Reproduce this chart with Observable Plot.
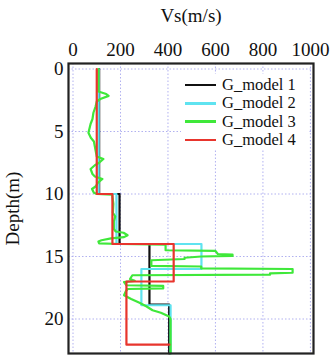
<!DOCTYPE html>
<html>
<head>
<meta charset="utf-8">
<script src="https://cdn.jsdelivr.net/npm/d3@7"></script>
<script src="https://cdn.jsdelivr.net/npm/@observablehq/plot@0.6"></script>
<style>
  body { margin: 0; background: #fff; }
  #wrap { position: relative; width: 331px; height: 356px; font-family: "Liberation Serif", serif; }
  #legend { position: absolute; left: 181px; top: 74px; width: 128px; height: 76px; background: #fff; }
  .row { position: absolute; left: 0; height: 18px; display: flex; align-items: center; font-size: 16.5px; color: #111; }
  .row span.sw { display: inline-block; width: 31px; height: 2.5px; margin-left: 4px; margin-right: 6px; }
</style>
</head>
<body>
<div id="wrap"></div>
<script>
// ---- data ----
const modelNames = ["G_model 1", "G_model 2", "G_model 3", "G_model 4"];
const modelColors = ["#111111", "#5fe3f0", "#3fe83a", "#e8352d"];

const m1Depth = [0, 10, 10, 14, 14, 18.85, 18.85, 22.76];
const m1Vs    = [110, 110, 196, 196, 322, 322, 405, 405];

const m2Depth = [0, 10, 10, 14, 14, 16.0, 16.0, 18.9, 18.9, 22.76];
const m2Vs    = [108, 108, 183, 183, 541, 541, 288, 288, 411, 411];

const m3Depth = [0, 1.8, 2.0, 2.15, 2.4, 2.6, 3.0, 3.5, 4.0, 4.4, 5.1, 5.5, 5.8, 6.5, 7.0, 7.2, 7.5, 7.7, 8.0, 8.4, 8.6, 8.8, 9.1, 9.4, 9.6, 9.9, 10.0,
  10.05, 10.8, 11.5, 11.8, 12.2, 12.8, 13.0, 13.1, 13.3, 13.45, 13.55, 13.7, 13.8, 13.95, 14.0,
  14.05, 14.5, 14.55, 14.8, 14.85, 14.95, 15.0, 15.1, 15.2, 15.3, 15.75, 15.8, 15.95, 16.0, 16.3, 16.35, 16.45, 16.5,
  16.8, 16.95, 17.05, 17.3, 17.35, 17.55, 17.6, 17.8, 18.1, 18.4, 18.7, 19.0, 19.3, 19.5, 19.8, 20.0, 22.76];
const m3Vs    = [107, 107, 140, 150, 115, 100, 95, 86, 82, 74, 65, 75, 88, 95, 100, 128, 110, 92, 74, 82, 92, 124, 105, 95, 80, 88, 100,
  165, 170, 168, 178, 172, 172, 180, 213, 230, 215, 160, 120, 107, 110, 200,
  390, 390, 600, 610, 672, 672, 540, 470, 470, 330, 330, 540, 540, 925, 925, 830, 830, 250,
  240, 260, 215, 225, 380, 380, 230, 222, 215, 245, 280, 310, 335, 370, 405, 411, 411];

const m4Depth = [0, 10, 10, 14, 14, 17.0, 17.0, 22.05, 22.05];
const m4Vs    = [100, 100, 166, 166, 424, 424, 225, 225, 406];

const xTicks = [0, 200, 400, 600, 800, 1000];
const yTicks = [0, 5, 10, 15, 20];

// ---- build table ----
const series = [[m1Depth, m1Vs], [m2Depth, m2Vs], [m3Depth, m3Vs], [m4Depth, m4Vs]];
const rows = [];
series.forEach(([ds, vs], i) => ds.forEach((d, k) => rows.push({model: modelNames[i], depth: d, vs: vs[k]})));

const chart = Plot.plot({
  width: 331,
  height: 356,
  marginLeft: 68,
  marginRight: 18,
  marginTop: 63,
  marginBottom: 3,
  style: {fontFamily: "Liberation Serif, serif", fontSize: "19px", color: "#111", background: "#fff"},
  x: {domain: [-19, 1013]},
  y: {domain: [-0.44, 22.76], reverse: true},
  color: {domain: modelNames, range: modelColors},
  marks: [
    Plot.gridX(xTicks, {stroke: "#a9a9ee", strokeOpacity: 0.9, strokeDasharray: "1.5,2"}),
    Plot.gridY(yTicks, {stroke: "#a9a9ee", strokeOpacity: 0.9, strokeDasharray: "1.5,2"}),
    Plot.line(rows, {x: "vs", y: "depth", z: "model", stroke: "model", strokeWidth: 2.2, curve: "linear"}),
    Plot.axisX(xTicks, {anchor: "top", tickSize: 0, tickPadding: 8, fontSize: 19, tickFormat: d => String(d), label: "Vs(m/s)", labelAnchor: "center", labelOffset: 55, labelArrow: "none"}),
    Plot.axisY(yTicks, {anchor: "left", tickSize: 0, tickPadding: 5, fontSize: 19, tickFormat: d => String(d), label: "Depth(m)", labelAnchor: "center", labelOffset: 63, labelArrow: "none"}),
    Plot.frame({stroke: "#222", strokeWidth: 2.2})
  ]
});

const wrap = document.getElementById("wrap");
wrap.appendChild(chart);

// legend inside the plot area
const legend = document.createElement("div");
legend.id = "legend";
modelNames.forEach((name, i) => {
  const r = document.createElement("div");
  r.className = "row";
  r.style.top = (2 + i * 18.3) + "px";
  const sw = document.createElement("span");
  sw.className = "sw";
  sw.style.background = modelColors[i];
  r.appendChild(sw);
  const t = document.createElement("span");
  t.textContent = name;
  r.appendChild(t);
  legend.appendChild(r);
});
wrap.appendChild(legend);
</script>
</body>
</html>
